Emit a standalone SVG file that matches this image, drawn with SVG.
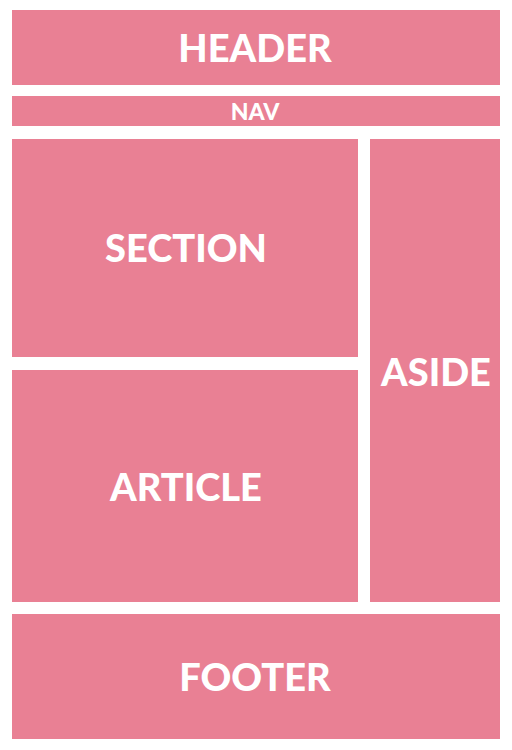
<svg xmlns="http://www.w3.org/2000/svg" width="512" height="750" viewBox="0 0 512 750">
<style>
.box{fill:#e98094}
.t{fill:#ffffff;font-family:Lato,"Open Sans","Liberation Sans",sans-serif;font-weight:900;text-anchor:middle;dominant-baseline:central;font-size:38px}
</style>
<rect x="0" y="0" width="512" height="750" fill="#ffffff"/>
<g id="header"><rect class="box" x="12" y="10" width="488" height="75"/><text class="t" x="255" y="47">HEADER</text></g>
<g id="nav"><rect class="box" x="12" y="96" width="488" height="30"/><text class="t" x="255" y="111" style="font-size:23px">NAV</text></g>
<g id="section"><rect class="box" x="12" y="139" width="346" height="218"/><text class="t" x="186" y="247">SECTION</text></g>
<g id="article"><rect class="box" x="12" y="370" width="346" height="232"/><text class="t" x="186" y="486">ARTICLE</text></g>
<g id="aside"><rect class="box" x="370" y="139" width="130" height="463"/><text class="t" x="436" y="371">ASIDE</text></g>
<g id="footer"><rect class="box" x="12" y="614" width="488" height="125"/><text class="t" x="255" y="676">FOOTER</text></g>
<g id="connectors"></g>
</svg>
